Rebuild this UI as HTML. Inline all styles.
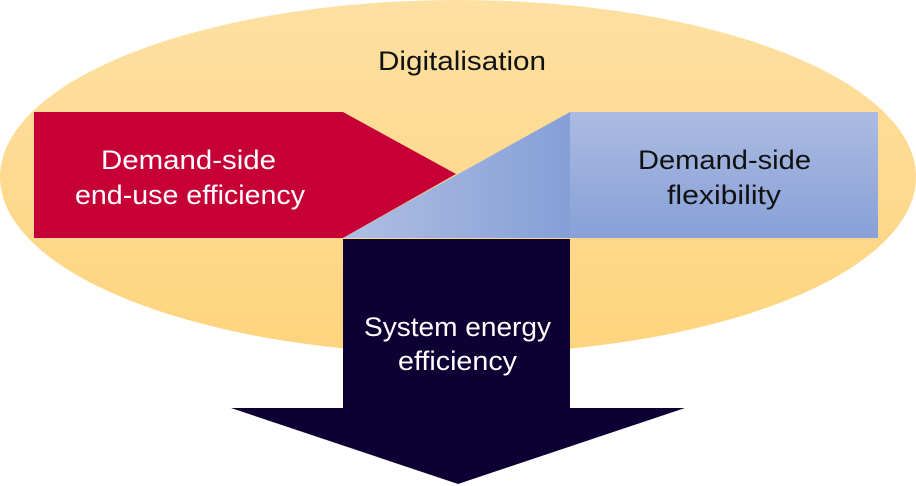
<!DOCTYPE html>
<html><head><meta charset="utf-8"><style>
html,body{margin:0;padding:0;background:#fff;}
svg{display:block;}
text{font-family:"Liberation Sans",sans-serif;}
</style></head><body>
<svg width="916" height="486" viewBox="0 0 916 486" xmlns="http://www.w3.org/2000/svg">
<defs>
<linearGradient id="ell" x1="0" y1="0" x2="0" y2="1">
<stop offset="0" stop-color="#fde0a2"/><stop offset="1" stop-color="#ffd47e"/>
</linearGradient>
<linearGradient id="tri" x1="0" y1="0" x2="1" y2="0">
<stop offset="0" stop-color="#b0bfe3"/><stop offset="1" stop-color="#859fd7"/>
</linearGradient>
<linearGradient id="rect" x1="0" y1="0" x2="0" y2="1">
<stop offset="0" stop-color="#acbbe2"/><stop offset="1" stop-color="#87a0d7"/>
</linearGradient>
</defs>
<ellipse cx="458" cy="177" rx="458" ry="177" fill="url(#ell)"/>
<polygon points="34,112 343,112 456,174 343,238 34,238" fill="#c60037"/>
<rect x="570" y="112" width="308" height="126" fill="url(#rect)"/>
<polygon points="343,238 570,112 570,238" fill="url(#tri)"/>
<polygon points="343,239 570,239 570,408 685,408 458,484 231,408 343,408" fill="#0d0033"/>
<g font-size="27">
<text x="378" y="70" textLength="168" lengthAdjust="spacingAndGlyphs" fill="#111">Digitalisation</text>
<text x="101" y="169" textLength="175" lengthAdjust="spacingAndGlyphs" fill="#fff">Demand-side</text>
<text x="75" y="204" textLength="230" lengthAdjust="spacingAndGlyphs" fill="#fff">end-use efficiency</text>
<text x="638" y="169" textLength="173" lengthAdjust="spacingAndGlyphs" fill="#111">Demand-side</text>
<text x="667" y="204" textLength="114" lengthAdjust="spacingAndGlyphs" fill="#111">flexibility</text>
<text x="364" y="336" textLength="187" lengthAdjust="spacingAndGlyphs" fill="#fff">System energy</text>
<text x="398" y="370" textLength="119" lengthAdjust="spacingAndGlyphs" fill="#fff">efficiency</text>
</g>
</svg>
</body></html>
